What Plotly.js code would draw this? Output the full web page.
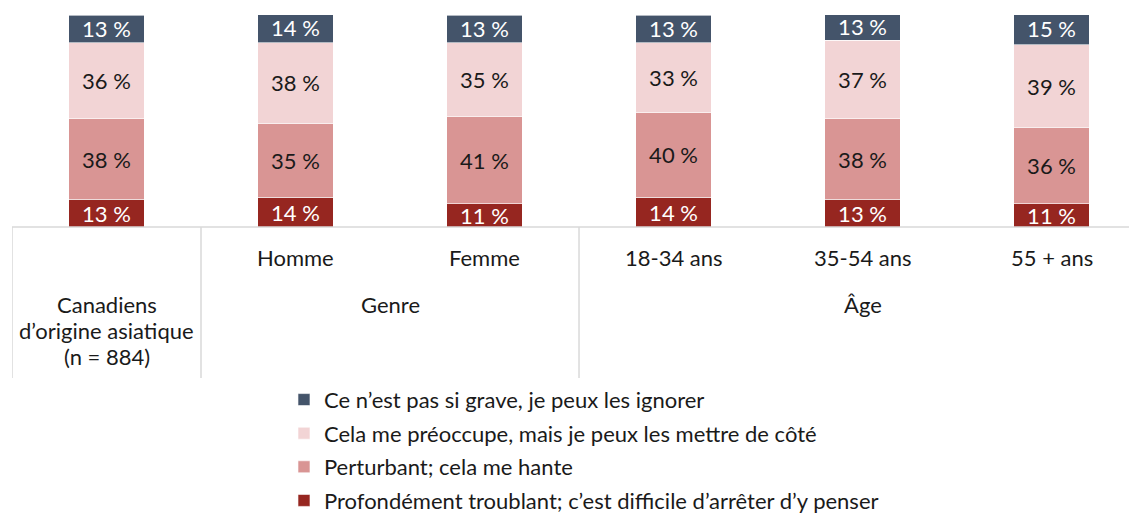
<!DOCTYPE html>
<html><head><meta charset="utf-8">
<script src="https://cdn.plot.ly/plotly-3.0.1.min.js"></script>
<style>html,body{margin:0;padding:0;background:#fff;}#chart{width:1129px;height:514px;}</style>
</head><body><div id="chart"></div>
<script>
const categories = ['Canadiens d’origine asiatique (n = 884)', 'Homme', 'Femme', '18-34 ans', '35-54 ans', '55 + ans'];
const subLabels = ['', 'Homme', 'Femme', '18-34 ans', '35-54 ans', '55 + ans'];
const groupLabels = ['Canadiens|d’origine asiatique|(n = 884)', 'Genre', 'Âge'];
const groupStart = [0, 1, 3];
const groupEnd = [0, 2, 5];

const seriesNames = [
  'Profondément troublant; c’est difficile d’arrêter d’y penser',
  'Perturbant; cela me hante',
  'Cela me préoccupe, mais je peux les mettre de côté',
  'Ce n’est pas si grave, je peux les ignorer'
];
const profondement = [13, 14, 11, 14, 13, 11];
const perturbant = [38, 35, 41, 40, 38, 36];
const preoccupe = [36, 38, 35, 33, 37, 39];
const pasGrave = [13, 14, 13, 13, 13, 15];
const seriesValues = [profondement, perturbant, preoccupe, pasGrave];
const colors = ['#962620', '#D99594', '#F2D4D5', '#44546A'];
const textColors = ['#ffffff', '#1a1a1a', '#1a1a1a', '#ffffff'];

const FONT = 'Lato, sans-serif';
const FS = 22;

const traces = seriesValues.map((vals, i) => ({
  type: 'bar',
  name: seriesNames[i],
  x: categories,
  y: vals,
  text: vals.map(v => v + ' %'),
  textposition: 'inside',
  insidetextanchor: 'middle',
  textangle: 0,
  constraintext: 'none',
  cliponaxis: true,
  textfont: {family: FONT, size: FS, color: textColors[i]},
  marker: {color: colors[i], line: {color: 'rgba(255,255,255,0.6)', width: 1}},
  width: 0.4,
  legendgroup: 'g' + i,
  legendrank: 1000 - i,
  hoverinfo: 'none'
}));

const annotations = [];
const shapes = [];
subLabels.forEach((s, i) => {
  if (!s) return;
  annotations.push({xref: 'x', yref: 'paper', x: categories[i], y: 0, yshift: -30, yanchor: 'middle',
    text: s, showarrow: false, font: {family: FONT, size: FS, color: '#1a1a1a'}});
});
groupLabels.forEach((g, k) => {
  const lines = g.split('|');
  const xc = (groupStart[k] + groupEnd[k]) / 2;
  const centerShift = lines.length === 1 ? -77 : -103;
  lines.forEach((ln, j) => {
    annotations.push({xref: 'x', yref: 'paper', x: xc, y: 0,
      yshift: centerShift + (j - (lines.length - 1) / 2) * -26, yanchor: 'middle',
      text: ln, showarrow: false, font: {family: FONT, size: FS, color: '#1a1a1a'}});
  });
  shapes.push({type: 'line', xref: 'x', yref: 'paper', x0: groupStart[k] - 0.5, x1: groupStart[k] - 0.5,
    y0: 0, y1: -151 / 212, line: {color: '#d9d9d9', width: 1.5}});
});
shapes.push({type: 'line', xref: 'paper', yref: 'paper', x0: 0, x1: 1, y0: 0, y1: 0,
  line: {color: '#d9d9d9', width: 1.5}});

const layout = {
  width: 1129, height: 514,
  margin: {l: 12, r: 0, t: 15, b: 287, autoexpand: false},
  paper_bgcolor: '#fff', plot_bgcolor: '#fff',
  barmode: 'stack',
  uniformtext: {mode: 'show', minsize: FS},
  showlegend: true,
  legend: {x: 0.2435, xanchor: 'left', y: -0.716, yanchor: 'top', orientation: 'v',
    traceorder: 'grouped', tracegroupgap: 2, itemwidth: 30,
    font: {family: FONT, size: FS, color: '#1a1a1a'}},
  xaxis: {type: 'category', range: [-0.5, 5.41], showticklabels: false, ticks: '', showgrid: false,
    zeroline: false, showline: false, fixedrange: true},
  yaxis: {range: [0, 100], visible: false, showgrid: false, zeroline: false, fixedrange: true},
  annotations: annotations,
  shapes: shapes
};
Plotly.newPlot('chart', traces, layout, {displayModeBar: false, staticPlot: true});
</script></body></html>
